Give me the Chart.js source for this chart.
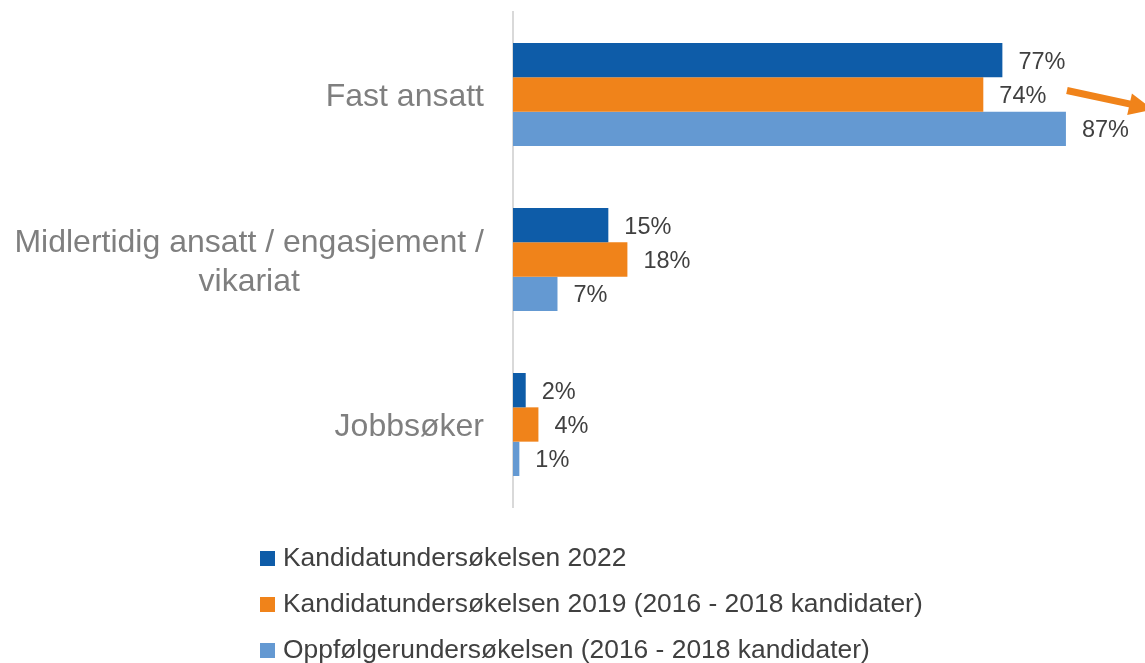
<!DOCTYPE html>
<html lang="no">
<head>
<meta charset="utf-8">
<title>Arbeidssituasjon</title>
<script src="https://cdn.jsdelivr.net/npm/chart.js@4/dist/chart.umd.min.js"></script>
<style>
  html, body { margin: 0; padding: 0; background: #fff; }
  #wrap { width: 1145px; height: 663px; }
</style>
</head>
<body>
<div id="wrap"><canvas id="chart" width="1145" height="663"></canvas></div>
<script>
'use strict';

// Kategorier (multi-line labels as arrays)
const categories = [
  'Fast ansatt',
  ['Midlertidig ansatt / engasjement /', 'vikariat'],
  'Jobbsøker'
];

// Serier (prosent)
const seriesNames = [
  'Kandidatundersøkelsen 2022',
  'Kandidatundersøkelsen 2019 (2016 - 2018 kandidater)',
  'Oppfølgerundersøkelsen (2016 - 2018 kandidater)'
];
const survey2022   = [77, 15, 2];
const survey2019   = [74, 18, 4];
const followUp     = [87, 7, 1];

const seriesColors = ['#0E5CA8', '#F0831A', '#6499D2'];

const FONT = '"Liberation Sans", Arial, Helvetica, sans-serif';
Chart.defaults.font.family = FONT;

/* ---------- Category labels (centred lines, right-aligned block) ---------- */
const categoryLabels = {
  id: 'categoryLabels',
  afterDraw(chart) {
    const { ctx, chartArea, scales } = chart;
    const yScale = scales.y;
    const lineH = 39;
    ctx.save();
    ctx.font = '32px ' + FONT;
    ctx.fillStyle = '#7F7F7F';
    ctx.textAlign = 'center';
    ctx.textBaseline = 'middle';
    categories.forEach((label, i) => {
      const lines = Array.isArray(label) ? label : [label];
      const widest = Math.max(...lines.map(l => ctx.measureText(l).width));
      const right = chartArea.left - 29;
      const cx = right - widest / 2;
      const cy = yScale.getPixelForValue(i) + 3;
      const top = cy - (lines.length - 1) * lineH / 2;
      lines.forEach((l, k) => ctx.fillText(l, cx, top + k * lineH));
    });
    ctx.restore();
  }
};

/* ---------- Value labels ---------- */
const valueLabels = {
  id: 'valueLabels',
  afterDatasetsDraw(chart) {
    const { ctx } = chart;
    ctx.save();
    ctx.font = '23.5px ' + FONT;
    ctx.fillStyle = '#404040';
    ctx.textAlign = 'left';
    ctx.textBaseline = 'middle';
    chart.data.datasets.forEach((ds, di) => {
      chart.getDatasetMeta(di).data.forEach((bar, i) => {
        ctx.fillText(ds.data[i] + '%', bar.x + 16, bar.y + 2);
      });
    });
    ctx.restore();
  }
};

/* ---------- Orange trend arrow ---------- */
const trendArrow = {
  id: 'trendArrow',
  afterDraw(chart) {
    const { ctx, scales } = chart;
    const bar = chart.getDatasetMeta(1).data[0];
    const x0 = scales.x.getPixelForValue(followUp[0]) + 1;
    const y0 = bar.y - 4;
    const x1 = chart.width + 8;
    const y1 = bar.y + 15;
    const ang = Math.atan2(y1 - y0, x1 - x0);
    const headLen = 24, headHalf = 11;
    const bx = x1 - headLen * Math.cos(ang);
    const by = y1 - headLen * Math.sin(ang);
    ctx.save();
    ctx.strokeStyle = seriesColors[1];
    ctx.fillStyle = seriesColors[1];
    ctx.lineWidth = 7;
    ctx.beginPath();
    ctx.moveTo(x0, y0);
    ctx.lineTo(bx + 2, by);
    ctx.stroke();
    ctx.beginPath();
    ctx.moveTo(x1, y1);
    ctx.lineTo(bx + headHalf * Math.sin(ang), by - headHalf * Math.cos(ang));
    ctx.lineTo(bx - headHalf * Math.sin(ang), by + headHalf * Math.cos(ang));
    ctx.closePath();
    ctx.fill();
    ctx.restore();
  }
};

/* ---------- Legend (vertical list) ---------- */
const listLegend = {
  id: 'listLegend',
  afterDraw(chart) {
    const { ctx } = chart;
    const x = 260, y = 558.5, step = 46, box = 15;
    ctx.save();
    ctx.font = '26.4px ' + FONT;
    ctx.textAlign = 'left';
    ctx.textBaseline = 'middle';
    chart.data.datasets.forEach((ds, i) => {
      const cy = y + i * step;
      ctx.fillStyle = ds.backgroundColor;
      ctx.fillRect(x, cy - box / 2, box, box);
      ctx.fillStyle = '#404040';
      ctx.fillText(ds.label, x + 23, cy);
    });
    ctx.restore();
  }
};

const seriesData = [survey2022, survey2019, followUp];

new Chart(document.getElementById('chart'), {
  type: 'bar',
  data: {
    labels: categories,
    datasets: seriesData.map((d, i) => ({
      label: seriesNames[i],
      data: d,
      backgroundColor: seriesColors[i],
      borderWidth: 0,
      barPercentage: 1,
      categoryPercentage: 0.624
    }))
  },
  options: {
    indexAxis: 'y',
    responsive: false,
    animation: false,
    layout: { padding: { left: 513, right: 60, top: 12, bottom: 156 } },
    plugins: {
      legend: { display: false },
      tooltip: { enabled: false }
    },
    scales: {
      x: { display: false, min: 0, max: 90 },
      y: {
        display: true,
        grid: { display: false, drawTicks: false },
        ticks: { display: false },
        border: { display: true, color: '#D9D9D9', width: 2 }
      }
    }
  },
  plugins: [categoryLabels, valueLabels, trendArrow, listLegend]
});
</script>
</body>
</html>
